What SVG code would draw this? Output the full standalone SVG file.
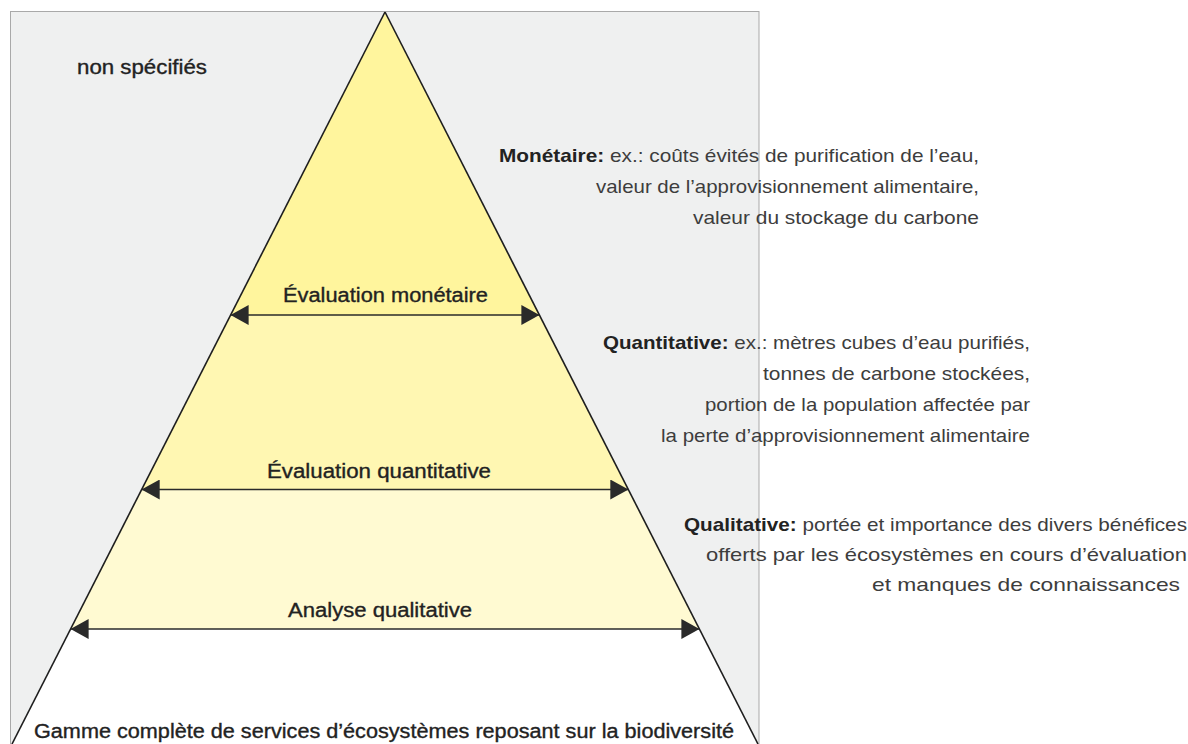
<svg xmlns="http://www.w3.org/2000/svg" width="1188" height="744" viewBox="0 0 1188 744">
<style>
.lbl{font-family:"Liberation Sans",Arial,sans-serif;font-size:20px;fill:#222;stroke:#222;stroke-width:0.35px;text-anchor:middle}
.side{font-family:"Liberation Sans",Arial,sans-serif;font-size:19px;fill:#3d3d3d;text-anchor:end}
.side .b{font-weight:bold;fill:#222}
.edge{stroke:#1e1e1e;stroke-width:1.6;fill:none}
.arr{stroke:#2a2a2a;stroke-width:1.6;fill:none;marker-start:url(#ah);marker-end:url(#ah)}
</style>
<defs>
<marker id="ah" viewBox="0 0 18 20" refX="18" refY="10" markerWidth="18" markerHeight="20" markerUnits="userSpaceOnUse" orient="auto-start-reverse">
<path d="M0,0 L18,10 L0,20 Z" fill="#2a2a2a"/>
</marker>
</defs>
<rect x="0" y="0" width="1188" height="744" fill="#ffffff"/>
<rect id="background" x="10.5" y="11.5" width="748.5" height="740" fill="#eff0f0" stroke="#a9a9a9" stroke-width="1"/>
<g id="band-monetaire">
<polygon points="385,12 539.4,315 230.6,315" fill="#fff59d"/>
<text class="lbl" x="385.5" y="302" textLength="205" lengthAdjust="spacingAndGlyphs">Évaluation monétaire</text>
</g>
<g id="band-quantitative">
<polygon points="230.6,315 539.4,315 628.3,489.5 141.7,489.5" fill="#fff7b2"/>
<text class="lbl" x="379" y="478" textLength="224" lengthAdjust="spacingAndGlyphs">Évaluation quantitative</text>
</g>
<g id="band-qualitative">
<polygon points="141.7,489.5 628.3,489.5 699.4,629 70.6,629" fill="#fffad2"/>
<text class="lbl" x="380" y="617" textLength="184" lengthAdjust="spacingAndGlyphs">Analyse qualitative</text>
</g>
<g id="band-base">
<polygon points="70.6,629 699.4,629 758,744 12,744" fill="#ffffff"/>
<text class="lbl" x="384" y="738" textLength="700" lengthAdjust="spacingAndGlyphs">Gamme complète de services d’écosystèmes reposant sur la biodiversité</text>
</g>
<g id="pyramid-outline">
<line class="edge" x1="385" y1="12" x2="12" y2="744"/>
<line class="edge" x1="385" y1="12" x2="758" y2="744"/>
</g>
<g id="non-specifies">
<text class="lbl" x="142" y="74" textLength="130" lengthAdjust="spacingAndGlyphs">non spécifiés</text>
</g>
<g id="connectors">
<line class="arr" x1="230.6" y1="315" x2="539.4" y2="315"/>
<line class="arr" x1="141.7" y1="489.5" x2="628.3" y2="489.5"/>
<line class="arr" x1="70.6" y1="629" x2="699.4" y2="629"/>
</g>
<g id="desc-monetaire">
<text class="side" x="979" y="162" textLength="480" lengthAdjust="spacingAndGlyphs"><tspan class="b">Monétaire:</tspan> ex.: coûts évités de purification de l’eau,</text>
<text class="side" x="979" y="193" textLength="383" lengthAdjust="spacingAndGlyphs">valeur de l’approvisionnement alimentaire,</text>
<text class="side" x="979" y="224" textLength="286" lengthAdjust="spacingAndGlyphs">valeur du stockage du carbone</text>
</g>
<g id="desc-quantitative">
<text class="side" x="1030" y="349" textLength="427" lengthAdjust="spacingAndGlyphs"><tspan class="b">Quantitative:</tspan> ex.: mètres cubes d’eau purifiés,</text>
<text class="side" x="1030" y="380" textLength="267" lengthAdjust="spacingAndGlyphs">tonnes de carbone stockées,</text>
<text class="side" x="1030" y="411" textLength="325" lengthAdjust="spacingAndGlyphs">portion de la population affectée par</text>
<text class="side" x="1030" y="442" textLength="369" lengthAdjust="spacingAndGlyphs">la perte d’approvisionnement alimentaire</text>
</g>
<g id="desc-qualitative">
<text class="side" x="1187" y="531" textLength="503" lengthAdjust="spacingAndGlyphs"><tspan class="b">Qualitative:</tspan> portée et importance des divers bénéfices</text>
<text class="side" x="1187" y="561" textLength="481" lengthAdjust="spacingAndGlyphs">offerts par les écosystèmes en cours d’évaluation</text>
<text class="side" x="1180" y="591" textLength="308" lengthAdjust="spacingAndGlyphs">et manques de connaissances</text>
</g>
</svg>
